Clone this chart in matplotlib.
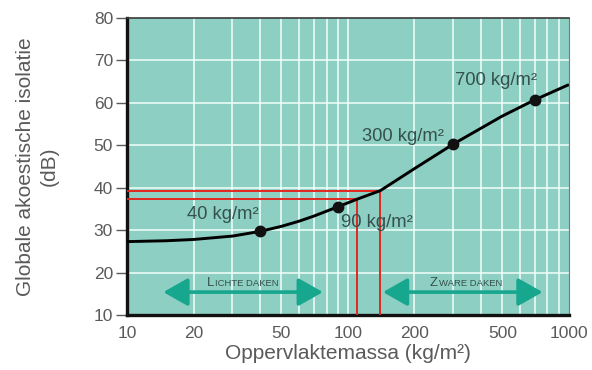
import matplotlib
matplotlib.use("Agg")
import matplotlib.pyplot as plt
from matplotlib.offsetbox import TextArea, HPacker, AnnotationBbox
from matplotlib.ticker import FixedLocator, NullFormatter, NullLocator

plt.rcParams['font.family'] = ['Liberation Sans', 'DejaVu Sans']

# ---- data ----
curve_mass = [10, 15, 20, 30, 40, 50, 60, 70, 90, 110, 140, 200, 300, 500, 700, 1000]
curve_db = [27.3, 27.5, 27.8, 28.6, 29.7, 30.9, 32.1, 33.3, 35.5, 37.3, 39.3, 44.5, 50.3, 56.9, 60.7, 64.3]

point_mass = [40, 90, 300, 700]
point_db = [29.7, 35.5, 50.3, 60.7]
point_labels = ["40 kg/m²", "90 kg/m²", "300 kg/m²", "700 kg/m²"]
label_pos_mass = [18.7, 93, 116, 305]
label_pos_db = [33.6, 31.7, 52.0, 65.2]

red_mass = [110, 140]
red_db = [37.4, 39.2]

light_range = [14.6, 77]
heavy_range = [144, 760]
arrow_db = 15.4
class_text_mass = [33.5, 342]
class_text_db = 17.6

xticks = [10, 20, 50, 100, 200, 500, 1000]
yticks = [10, 20, 30, 40, 50, 60, 70, 80]
xgrid = [20, 30, 40, 50, 60, 70, 80, 90, 100, 200, 300, 400, 500, 600, 700, 800, 900]
ygrid = [20, 30, 40, 50, 60, 70]

# ---- style ----
bg = "#8dcfc3"
teal = "#16a78e"
txt = "#35504d"
gray = "#5a5a5a"

fig = plt.figure(figsize=(5.92, 3.70), dpi=100)
ax = fig.add_axes([0.2145, 0.1486, 0.961 - 0.2145, 0.9514 - 0.1486])
ax.set_facecolor(bg)
ax.set_xscale('log')
ax.set_xlim(10, 1000)
ax.set_ylim(10, 80)

# grid
for g in xgrid:
    ax.axvline(g, color="#f2fffb", lw=1.1, zorder=1)
for g in ygrid:
    ax.axhline(g, color="#f2fffb", lw=1.1, zorder=1)

# red helper lines
for m, d in zip(red_mass, red_db):
    ax.plot([10, m, m], [d, d, 10], color="#e3261f", lw=1.4, zorder=3, solid_joinstyle='miter')

# curve
ax.plot(curve_mass, curve_db, color="black", lw=2.1, zorder=4, solid_capstyle='butt')
ax.plot(point_mass, point_db, 'o', color="#111111", ms=7.5, zorder=5)

for lab, xm, yd in zip(point_labels, label_pos_mass, label_pos_db):
    ax.text(xm, yd, lab, fontsize=13.2, color=txt, ha='left', va='center', zorder=6)

# arrows
for rng in (light_range, heavy_range):
    ax.annotate("", xy=(rng[1], arrow_db), xytext=(rng[0], arrow_db),
                arrowprops=dict(arrowstyle="<|-|>,head_length=1.5,head_width=0.85",
                                color=teal, lw=2.6, shrinkA=0, shrinkB=0),
                zorder=5)

def small_caps(first, rest, xm, yd):
    a = TextArea(first, textprops=dict(fontsize=9.5, color=txt))
    b = TextArea(rest, textprops=dict(fontsize=6.8, color=txt))
    pack = HPacker(children=[a, b], align="baseline", pad=0, sep=0.5)
    ab = AnnotationBbox(pack, (xm, yd), frameon=False, box_alignment=(0.5, 0.5),
                        pad=0, zorder=6)
    ax.add_artist(ab)

small_caps("L", "ICHTE DAKEN", class_text_mass[0], class_text_db)
small_caps("Z", "WARE DAKEN", class_text_mass[1], class_text_db)

# ticks
ax.xaxis.set_major_locator(FixedLocator(xticks))
ax.xaxis.set_minor_locator(NullLocator())
ax.xaxis.set_minor_formatter(NullFormatter())
ax.set_xticklabels([str(t) for t in xticks])
ax.set_yticks(yticks)
ax.tick_params(axis='x', length=0, pad=8, labelsize=12.5, colors=gray)
ax.tick_params(axis='y', length=8, width=1.0, pad=2, labelsize=12.5, colors=gray, direction='out')

# spines
ax.spines['left'].set_linewidth(2.4)
ax.spines['left'].set_color('#111111')
ax.spines['bottom'].set_linewidth(2.4)
ax.spines['bottom'].set_color('#111111')
ax.spines['top'].set_linewidth(1.2)
ax.spines['top'].set_color('#3a3a3a')
ax.spines['right'].set_linewidth(0.8)
ax.spines['right'].set_color('#7a7a7a')

ax.set_xlabel("Oppervlaktemassa (kg/m²)", fontsize=15, color=gray, labelpad=2)
ax.set_ylabel("Globale akoestische isolatie\n(dB)", fontsize=15, color=gray,
              linespacing=1.3, labelpad=25)

fig.savefig("out.png", dpi=100)
